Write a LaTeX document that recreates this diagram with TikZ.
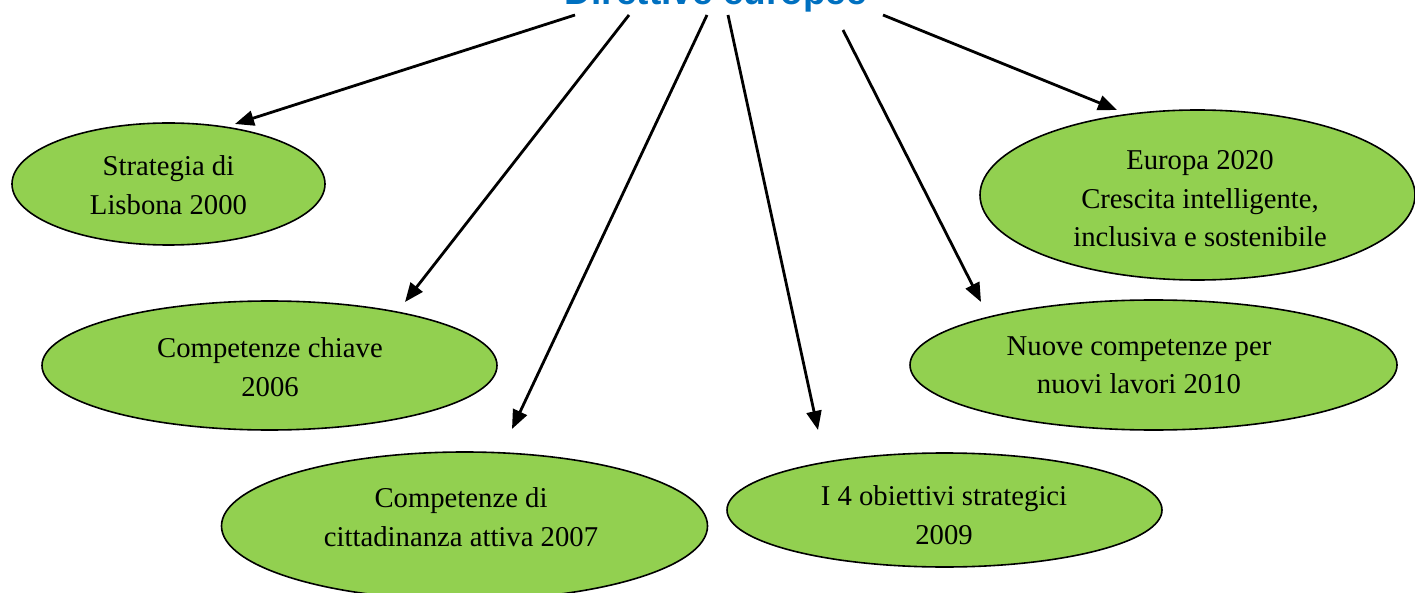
\documentclass[tikz,border=0pt]{standalone}
\usepackage{fontspec}
\setmainfont{Liberation Serif}
\newfontfamily\titlefont{Liberation Sans}
\usetikzlibrary{shapes.geometric,arrows.meta}
\definecolor{ovalgreen}{HTML}{92D050}
\definecolor{titleblue}{HTML}{0070C0}
\begin{document}
\begin{tikzpicture}[x=1pt,y=-1pt,
  oval/.style={ellipse,draw=black,line width=1.6pt,fill=ovalgreen,inner sep=0pt},
  txt/.style={align=center,font=\fontsize{28.7}{38.5}\selectfont,inner sep=0pt},
  arr/.style={line width=2.8pt,-{Triangle[length=19pt,width=15pt]}}]
\useasboundingbox (0,0) rectangle (1415,593);
\clip (0,0) rectangle (1415,593);
% title
\node[anchor=base,font=\titlefont\bfseries\fontsize{37}{40}\selectfont,text=titleblue,inner sep=0pt] (title) at (716,5) {Direttive europee};
% ellipses
\node[oval,minimum width=313pt,minimum height=122pt] (lisbona) at (168.5,184) {};
\node[oval,minimum width=455pt,minimum height=129pt] (chiave) at (269.5,365.5) {};
\node[oval,minimum width=486pt,minimum height=148pt] (citt) at (464.5,526) {};
\node[oval,minimum width=435pt,minimum height=114pt] (obiettivi) at (944.5,510) {};
\node[oval,minimum width=487pt,minimum height=130pt] (nuove) at (1153.5,365) {};
\node[oval,minimum width=435pt,minimum height=170pt] (europa) at (1197.5,195) {};
% texts
\node[txt] (tlisbona) at (168.5,185) {Strategia di\\Lisbona 2000};
\node[txt] (tchiave) at (270,367) {Competenze chiave\\2006};
\node[txt] (tcitt) at (461,517) {Competenze di\\cittadinanza attiva 2007};
\node[txt] (tobiettivi) at (944,515) {I 4 obiettivi strategici\\2009};
\node[txt] (tnuove) at (1139,365) {Nuove competenze per\\nuovi lavori 2010};
\node[txt] (teuropa) at (1200,199) {Europa 2020\\Crescita intelligente,\\inclusiva e sostenibile};
% arrow ends
\coordinate (s1) at (575,15);  \coordinate (e1) at (235,124);
\coordinate (s2) at (629,15);  \coordinate (e2) at (405,302);
\coordinate (s3) at (707,15);  \coordinate (e3) at (512,429);
\coordinate (s4) at (728,15);  \coordinate (e4) at (818,430);
\coordinate (s5) at (843,30);  \coordinate (e5) at (981,302);
\coordinate (s6) at (883,15);  \coordinate (e6) at (1117,110);
\draw[arr] (s1) -- (e1);
\draw[arr] (s2) -- (e2);
\draw[arr] (s3) -- (e3);
\draw[arr] (s4) -- (e4);
\draw[arr] (s5) -- (e5);
\draw[arr] (s6) -- (e6);
\end{tikzpicture}
\end{document}
